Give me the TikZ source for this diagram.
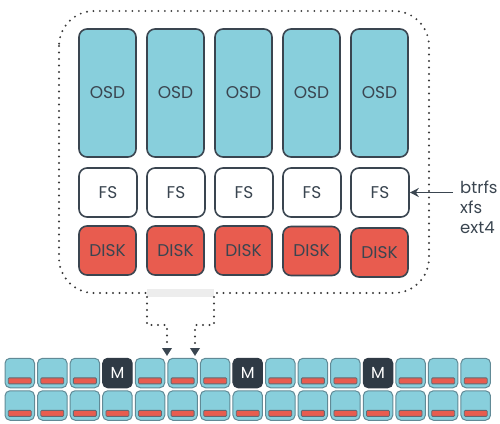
\documentclass[tikz,border=0pt]{standalone}
\usepackage{fontspec}
\setmainfont{Poppins}
\usetikzlibrary{arrows.meta,positioning}

\definecolor{osdblue}{HTML}{88CFDC}
\definecolor{diskred}{HTML}{E85C4F}
\definecolor{edgegray}{HTML}{3A4550}
\definecolor{mongray}{HTML}{2F3A45}
\definecolor{gapgray}{HTML}{EDEDED}
\definecolor{dotgray}{HTML}{3C3C3C}

\begin{document}
\begin{tikzpicture}[x=1pt, y=-1pt,
    basebox/.style={draw=edgegray, line width=1.6pt, rounded corners=8pt,
        text=edgegray, font=\fontsize{17}{18}\selectfont},
    osdbox/.style={basebox, fill=osdblue, minimum width=57pt, minimum height=128pt},
    fsbox/.style={basebox, fill=white, minimum width=58pt, minimum height=49pt},
    diskbox/.style={basebox, fill=diskred, minimum width=57pt, minimum height=49pt},
    cellbox/.style={draw=edgegray!50!osdblue, line width=1pt, fill=osdblue,
        rounded corners=5pt, minimum width=29.5pt, minimum height=29.5pt},
    moncell/.style={cellbox, draw=mongray, fill=mongray, text=white,
        font=\fontsize{16}{18}\selectfont},
    diskbar/.style={draw=edgegray!80, line width=0.8pt, fill=diskred, rounded corners=1pt,
        minimum width=23pt, minimum height=6pt, inner sep=0pt},
    dotline/.style={dotgray, line width=2.2pt, line cap=round, dash pattern=on 0pt off 6.5pt}]

        \useasboundingbox (0,0) rectangle (500,423);

        % one host
        \draw[dotline, rounded corners=35pt]
            (59,11) rectangle (429,293);

        \foreach \i/\dy in {1/0, 2/0, 3/0, 4/0.5, 5/2} {
            \node[osdbox] (osd\i) at (39.5+68*\i, 93) {OSD};
            \node[fsbox] (fs\i) at (40+68*\i, 192.5) {FS};
            \node[diskbox] (disk\i) at (39.5+68*\i, 250.5+\dy) {DISK};
        }

        \node[text=edgegray, align=left, anchor=west, inner sep=0pt,
            font=\fontsize{16.5}{20}\selectfont] (fstypes) at (460,207)
            {btrfs\\xfs\\ext4};

        \draw[edgegray, line width=1.6pt, -{Stealth[length=9pt,width=9pt]}]
            ([xshift=-7pt]fstypes.west |- fs5.east) -- (fs5.east);

        \fill[gapgray]
            (147,289) rectangle (214,297);

        \coordinate (gapL) at (147,297);
        \coordinate (gapR) at (214,297);
        \coordinate (tipL) at (167,356);
        \coordinate (tipR) at (195,356);

        \draw[dotline, -{Triangle[length=8pt,width=9.5pt,color=edgegray]}]
            (gapL) -- ++(0,28) -| (tipL);
        \draw[dotline, -{Triangle[length=8pt,width=9.5pt,color=edgegray]}]
            (gapR) -- ++(0,28) -| (tipR);

        % the cluster
        \foreach \r/\y in {1/373, 2/405.5}
            \foreach \c in {1,...,15} {
                \pgfmathsetmacro{\x}{19.75+32.57*(\c-1)}
                \pgfmathtruncatemacro{\ismon}{(\r==1)&&(mod(\c,4)==0)&&(\c<13)}
                \ifnum\ismon=1
                    \node[moncell] (cell-\r-\c) at (\x,\y) {M};
                \else
                    \node[cellbox] (cell-\r-\c) at (\x,\y) {};
                    \node[diskbar, above=4pt of cell-\r-\c.south] (bar-\r-\c) {};
                \fi
            }

    \end{tikzpicture}
\end{document}
